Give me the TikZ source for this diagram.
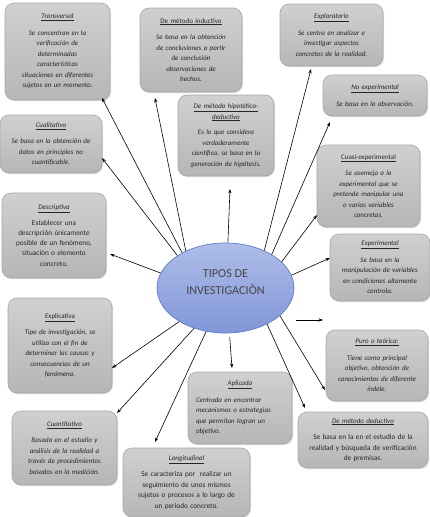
\documentclass[tikz,border=0pt]{standalone}
\usepackage{fontspec}
\setmainfont{Carlito}
\usetikzlibrary{shapes.geometric,arrows.meta,shadows}
\definecolor{boxline}{HTML}{A6A6A6}
\definecolor{boxtop}{HTML}{D0D0D0}
\definecolor{boxbot}{HTML}{B6B6B6}
\definecolor{txt}{HTML}{262626}
\definecolor{elltop}{HTML}{AEBDE8}
\definecolor{ellbot}{HTML}{8196D8}
\definecolor{ellline}{HTML}{5E7CCB}
\begin{document}
\begin{tikzpicture}[x=1pt,y=-1pt,
  box/.style={draw=boxline, line width=0.6pt, rounded corners=9pt, top color=boxtop, bottom color=boxbot,
    drop shadow={shadow xshift=1pt, shadow yshift=-1.2pt, opacity=0.25}, inner sep=0pt, align=center,
    text=txt, font=\fontsize{7}{10.5}\selectfont\itshape},
  arr/.style={-{Stealth[length=4.5pt,width=3.2pt]}, line width=0.6pt, black}
]
\useasboundingbox (0,0) rectangle (429,517);

\node[box, minimum width=105pt, minimum height=97pt, text width=100pt] (transv) at (57.5,51.5)
 {\underline{Transversal}\\[6pt] Se concentran en la\\ verificación de\\ determinadas\\ características\\ situaciones en diferentes\\ sujetos en un momento.};
\node[box, minimum width=102pt, minimum height=84pt, text width=98pt] (induc) at (191,50)
 {\underline{\upshape De método inductivo}\\[6pt] Se basa en la obtención\\ de conclusiones a partir\\ de conclusión\\ observaciones de\\ hechos.};
\node[box, minimum width=103pt, minimum height=62pt, text width=99pt] (explor) at (331.5,35)
 {\underline{Exploratorio}\\[6pt] Se centra en analizar e\\ investigar aspectos\\ concretos de la realidad.};
\node[box, minimum width=104pt, minimum height=41pt, text width=100pt] (noexp) at (375,95.5)
 {\underline{No experimental}\\[6pt] Se basa en la observación.};
\node[box, minimum width=96pt, minimum height=81pt, text width=94pt] (hipot) at (226,135.5)
 {\underline{De método hipotético-}\\ \underline{deductivo}\\[5pt] Es lo que considera\\ verdaderamente\\ científica, se basa en la\\ generación de hipótesis.};
\node[box, minimum width=102pt, minimum height=58pt, text width=100pt] (cuali) at (51,144)
 {\underline{Cualitativo}\\[6pt] Se basa en la obtención de\\ datos en principios no\\ cuantificable.};
\node[box, minimum width=104pt, minimum height=85pt, text width=100pt] (descr) at (54,235.5)
 {\underline{Descriptiva}\\[6pt] {\upshape\fontsize{7.3}{10}\selectfont Establecer una\\ descripción únicamente\\ posible de un fenómeno,\\ situación o elemento\\ concreto.}};
\node[box, minimum width=103pt, minimum height=82pt, text width=100pt] (cuasi) at (368.5,186)
 {\underline{\upshape Cuasi-experimental}\\[6pt] Se asemeja a la\\ experimental que se\\ pretende manipular una\\ o varias variables\\ concretas.};
\node[box, minimum width=100pt, minimum height=67pt, text width=98pt] (exper) at (380,267.5)
 {\underline{Experimental}\\[6pt] Se basa en la\\ manipulación de variables\\ en condiciones altamente\\ controla.};
\node[box, minimum width=104pt, minimum height=95pt, text width=100pt] (explic) at (60,345.5)
 {\underline{\upshape Explicativa}\\[6pt] Tipo de investigación, se\\ utiliza con el fin de\\ determinar las causas y\\ consecuencias de un\\ fenómeno.};
\node[box, minimum width=102pt, minimum height=71pt, text width=100pt] (puro) at (377,365.5)
 {\underline{Puro o teórica:}\\[6pt] Tiene como principal\\ objetivo, obtención de\\ conocimientos de diferente\\ índole.};
\node[box, minimum width=130pt, minimum height=56pt, text width=128pt] (deduc) at (363,440)
 {\underline{De método deductivo}\\[6pt] {\upshape\fontsize{7.3}{10.5}\selectfont Se basa en la en el estudio de la\\ realidad y búsqueda de verificación\\ de premisas.}};
\node[box, minimum width=104pt, minimum height=72pt, text width=100pt] (aplic) at (240,408)
 {\underline{Aplicada}\\[6pt] \makebox[88pt][s]{Centrada en encontrar}\\ \makebox[88pt][s]{mecanismos o estrategias}\\ \makebox[88pt][s]{que permitan logran un}\\ \makebox[88pt][l]{objetivo.}};
\node[box, minimum width=105pt, minimum height=74pt, text width=100pt] (cuant) at (64.5,448)
 {\underline{Cuantitativo}\\[6pt] Basada en el estudio y\\ análisis de la realidad a\\ través de procedimientos\\ basados en la medición.};
\node[box, minimum width=127pt, minimum height=69pt, text width=124pt] (longi) at (186.5,482.5)
 {\underline{Longitudinal}\\[6pt] {\upshape\fontsize{7.3}{10.5}\selectfont Se caracteriza por \ realizar un\\ seguimiento de unos mismos\\ sujetos o procesos a lo largo de\\ un periodo concreto.}};

\node[ellipse, draw=ellline, line width=0.7pt, top color=elltop, bottom color=ellbot,
  minimum width=137pt, minimum height=90pt, inner sep=0pt, align=center, text=black!72,
  font=\fontsize{12.2}{16.5}\selectfont] (ell) at (225.5,288) {TIPOS DE\\ INVESTIGACIÒN\\[-5pt]\mbox{}};

% arrow tips
\coordinate (tTransv) at (102,98);
\coordinate (tInduc) at (155,98);
\coordinate (tHipot) at (230,189);
\coordinate (tExplor) at (311,69);
\coordinate (tNoexp) at (330,122);
\coordinate (tCuasi) at (317,215);
\coordinate (tExper) at (330,258);
\coordinate (sLoose) at (296,320);
\coordinate (tLoose) at (323,320);
\coordinate (tPuro) at (325,390);
\coordinate (tDeduc) at (305,408);
\coordinate (tAplic) at (232,368);
\coordinate (tLongi) at (155,442);
\coordinate (tCuant) at (117,413);
\coordinate (tExplic) at (112,368);
\coordinate (tDescr) at (110,254);
\coordinate (tCuali) at (102,158);

\draw[arr] (ell.141) -- (tTransv);
\draw[arr] (ell.137) -- (tInduc);
\draw[arr] (ell.87) -- (tHipot);
\draw[arr] (ell.44.6) -- (tExplor);
\draw[arr] (ell.36.4) -- (tNoexp);
\draw[arr] (ell.25.5) -- (tCuasi);
\draw[arr] (ell.11.5) -- (tExper);
\draw[arr] (sLoose) -- (tLoose);
\draw[arr] (ell.-27.5) -- (tPuro);
\draw[arr] (ell.-41) -- (tDeduc);
\draw[arr, shorten <=4pt] (ell.-85) -- (tAplic);
\draw[arr] (ell.-114.5) -- (tLongi);
\draw[arr] (ell.-128.4) -- (tCuant);
\draw[arr] (ell.-144.4) -- (tExplic);
\draw[arr] (ell.167) -- (tDescr);
\draw[arr] (ell.146.6) -- (tCuali);
\end{tikzpicture}
\end{document}
